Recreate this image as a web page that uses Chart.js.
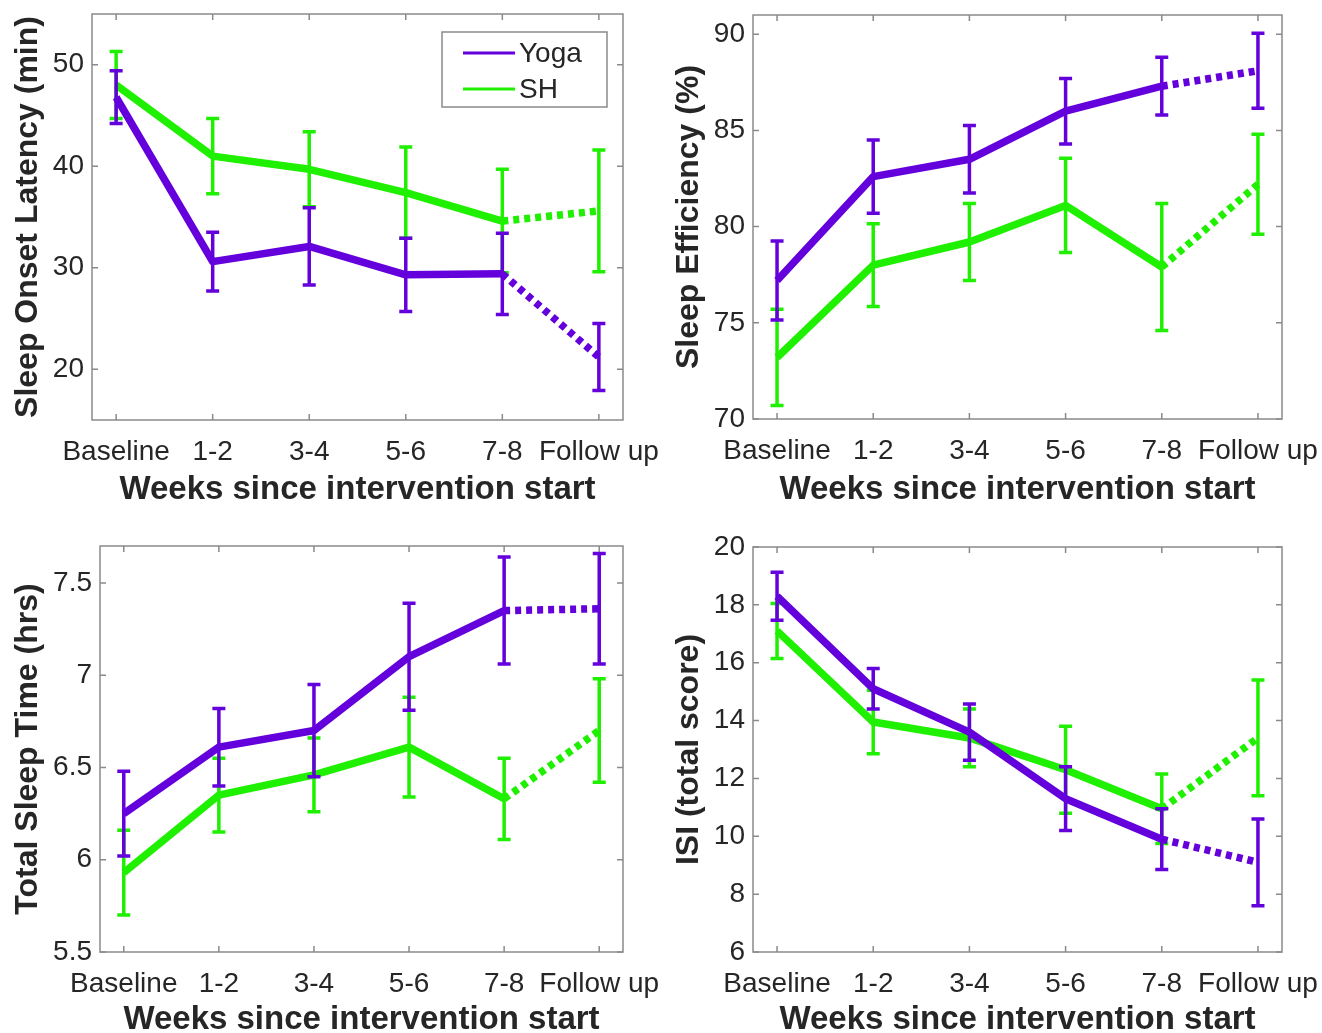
<!DOCTYPE html>
<html>
<head>
<meta charset="utf-8">
<script src="https://cdn.jsdelivr.net/npm/chart.js@4.4.0/dist/chart.umd.min.js"></script>
<style>
html, body { margin: 0; padding: 0; background: #fff; overflow: hidden; }
canvas { position: absolute; }
</style>
</head>
<body>
<canvas id="solChart" width="661" height="520" style="left:0;top:0"></canvas>
<canvas id="seChart" width="661" height="520" style="left:661px;top:0"></canvas>
<canvas id="tstChart" width="661" height="513" style="left:0;top:520px"></canvas>
<canvas id="isiChart" width="661" height="513" style="left:661px;top:520px"></canvas>
<script>
const weekLabels = ['Baseline', '1-2', '3-4', '5-6', '7-8', 'Follow up'];

// Sleep onset latency (min)
const solTicks = [20, 30, 40, 50];
const solYoga = [46.8, 30.6, 32.1, 29.3, 29.4, 21.2];
const solYogaErr = [2.6, 2.9, 3.8, 3.6, 4.0, 3.3];
const solSH = [48.0, 41.0, 39.7, 37.4, 34.6, 35.6];
const solSHErr = [3.3, 3.7, 3.7, 4.5, 5.1, 6.0];

// Sleep efficiency (%)
const seTicks = [70, 75, 80, 85, 90];
const seYoga = [77.2, 82.6, 83.5, 86.0, 87.3, 88.1];
const seYogaErr = [2.05, 1.9, 1.75, 1.7, 1.5, 1.95];
const seSH = [73.2, 78.0, 79.2, 81.1, 77.9, 82.2];
const seSHErr = [2.5, 2.15, 2.0, 2.45, 3.3, 2.6];

// Total sleep time (hrs)
const tstTicks = [5.5, 6, 6.5, 7, 7.5];
const tstYoga = [6.25, 6.61, 6.70, 7.10, 7.35, 7.36];
const tstYogaErr = [0.23, 0.21, 0.25, 0.29, 0.29, 0.30];
const tstSH = [5.93, 6.35, 6.46, 6.61, 6.33, 6.70];
const tstSHErr = [0.23, 0.20, 0.20, 0.27, 0.22, 0.28];

// ISI (total score)
const isiTicks = [6, 8, 10, 12, 14, 16, 18, 20];
const isiYoga = [18.3, 15.1, 13.6, 11.3, 9.9, 9.1];
const isiYogaErr = [0.83, 0.7, 0.97, 1.1, 1.05, 1.5];
const isiSH = [17.1, 13.95, 13.4, 12.3, 10.95, 13.4];
const isiSHErr = [0.95, 1.1, 1.0, 1.5, 1.2, 2.0];

Chart.defaults.font.family = '"Liberation Sans", Arial, Helvetica, sans-serif';
Chart.defaults.color = '#262626';

const purple = '#6400dc';
const green = '#1ef000';
const boxGrey = '#8a8a8a';

// vertical error bars with caps, drawn right after each series line
const errorBars = {
    id: 'errorBars',
    afterDatasetDraw(chart, args) {
        const ds = chart.data.datasets[args.index];
        if (!ds.errors) return;
        const { ctx, scales: { x, y } } = chart;
        ctx.save();
        ctx.strokeStyle = ds.borderColor;
        ctx.lineWidth = 3.5;
        ds.data.forEach((p, i) => {
            const px = x.getPixelForValue(p.x);
            const top = y.getPixelForValue(p.y + ds.errors[i]);
            const bot = y.getPixelForValue(p.y - ds.errors[i]);
            ctx.beginPath();
            ctx.moveTo(px, top); ctx.lineTo(px, bot);
            ctx.moveTo(px - 6.5, top); ctx.lineTo(px + 6.5, top);
            ctx.moveTo(px - 6.5, bot); ctx.lineTo(px + 6.5, bot);
            ctx.stroke();
        });
        ctx.restore();
    }
};

// matlab style box with inward ticks
const axesBox = {
    id: 'axesBox',
    beforeDatasetsDraw(chart) {
        const { ctx, chartArea: a, scales: { x, y } } = chart;
        ctx.save();
        ctx.strokeStyle = boxGrey;
        ctx.lineWidth = 1.5;
        ctx.strokeRect(a.left, a.top, a.right - a.left, a.bottom - a.top);
        ctx.beginPath();
        x.ticks.forEach(t => {
            const px = x.getPixelForValue(t.value);
            ctx.moveTo(px, a.bottom); ctx.lineTo(px, a.bottom - 6);
            ctx.moveTo(px, a.top); ctx.lineTo(px, a.top + 6);
        });
        y.ticks.forEach(t => {
            const py = y.getPixelForValue(t.value);
            ctx.moveTo(a.left, py); ctx.lineTo(a.left + 6, py);
            ctx.moveTo(a.right, py); ctx.lineTo(a.right - 6, py);
        });
        ctx.stroke();
        ctx.restore();
    }
};

const boxLegend = {
    id: 'boxLegend',
    afterDraw(chart) {
        const { ctx } = chart;
        ctx.save();
        ctx.fillStyle = '#fff';
        ctx.fillRect(442, 32, 165, 75);
        ctx.strokeStyle = boxGrey;
        ctx.lineWidth = 1.5;
        ctx.strokeRect(442, 32, 165, 75);
        const items = [['Yoga', purple, 53], ['SH', green, 89]];
        items.forEach(([name, col, yy]) => {
            ctx.strokeStyle = col;
            ctx.lineWidth = 3;
            ctx.beginPath();
            ctx.moveTo(463, yy); ctx.lineTo(515, yy);
            ctx.stroke();
            ctx.fillStyle = '#262626';
            ctx.font = '28px "Liberation Sans", Arial, sans-serif';
            ctx.textBaseline = 'middle';
            ctx.fillText(name, 519, yy + 1);
        });
        ctx.restore();
    }
};

function series(label, vals, errs, color) {
    return {
        label: label,
        data: vals.map((v, i) => ({ x: i, y: v })),
        errors: errs,
        borderColor: color,
        backgroundColor: color,
        borderWidth: 7.5,
        pointRadius: 0,
        tension: 0,
        fill: false,
        borderCapStyle: 'butt',
        borderJoinStyle: 'round',
        segment: {
            borderDash: ctx => ctx.p1DataIndex === 5 ? [6, 5] : undefined
        }
    };
}

function makePanel(id, p) {
    const plugins = [axesBox, errorBars];
    if (p.legend) plugins.push(boxLegend);
    new Chart(document.getElementById(id), {
        type: 'line',
        data: {
            datasets: [
                series('Yoga', p.yoga, p.yogaErr, purple),
                series('SH', p.sh, p.shErr, green)
            ]
        },
        plugins: plugins,
        options: {
            responsive: false,
            animation: false,
            devicePixelRatio: 1,
            layout: { padding: { top: p.padTop, right: p.padRight, left: 0, bottom: 0 } },
            plugins: {
                legend: { display: false },
                tooltip: { enabled: false }
            },
            scales: {
                x: {
                    type: 'linear',
                    min: -0.25,
                    max: 5.25,
                    grid: { display: false, drawTicks: false },
                    border: { display: false },
                    afterBuildTicks: s => { s.ticks = weekLabels.map((_, i) => ({ value: i })); },
                    ticks: {
                        autoSkip: false,
                        maxRotation: 0,
                        padding: 15,
                        font: { size: 28 },
                        color: '#262626',
                        callback: v => weekLabels[v]
                    },
                    title: {
                        display: true,
                        text: 'Weeks since intervention start',
                        font: { size: 33, weight: 'bold', lineHeight: 1 },
                        color: '#262626',
                        padding: { top: 0, bottom: p.xTitlePad }
                    },
                    afterFit: s => { s.height = p.xHeight; s.paddingLeft = 0; s.paddingRight = 0; }
                },
                y: {
                    min: p.yMin,
                    max: p.yMax,
                    grid: { display: false, drawTicks: false },
                    border: { display: false },
                    afterBuildTicks: s => { s.ticks = p.yTicks.map(v => ({ value: v })); },
                    ticks: {
                        padding: 8,
                        font: { size: 28 },
                        color: '#262626',
                        callback: v => String(v)
                    },
                    title: {
                        display: true,
                        text: p.yTitle,
                        font: { size: 32, weight: 'bold', lineHeight: 1 },
                        color: '#262626',
                        padding: { top: 12, bottom: 0 }
                    },
                    afterFit: s => { s.width = p.yWidth; s.paddingTop = 0; s.paddingBottom = 0; }
                }
            }
        }
    });
}

makePanel('solChart', {
    yTitle: 'Sleep Onset Latency (min)', yMin: 15, yMax: 55, yTicks: solTicks,
    yoga: solYoga, yogaErr: solYogaErr, sh: solSH, shErr: solSHErr,
    yWidth: 92, padTop: 14, padRight: 38, xHeight: 100, xTitlePad: 14, legend: true
});
makePanel('seChart', {
    yTitle: 'Sleep Efficiency (%)', yMin: 70, yMax: 91, yTicks: seTicks,
    yoga: seYoga, yogaErr: seYogaErr, sh: seSH, shErr: seSHErr,
    yWidth: 92, padTop: 15, padRight: 40, xHeight: 101, xTitlePad: 14
});
makePanel('tstChart', {
    yTitle: 'Total Sleep Time (hrs)', yMin: 5.5, yMax: 7.7, yTicks: tstTicks,
    yoga: tstYoga, yogaErr: tstYogaErr, sh: tstSH, shErr: tstSHErr,
    yWidth: 100, padTop: 26, padRight: 38, xHeight: 81, xTitlePad: -3
});
makePanel('isiChart', {
    yTitle: 'ISI (total score)', yMin: 6, yMax: 20, yTicks: isiTicks,
    yoga: isiYoga, yogaErr: isiYogaErr, sh: isiSH, shErr: isiSHErr,
    yWidth: 92, padTop: 27, padRight: 40, xHeight: 81, xTitlePad: -3
});
</script>
</body>
</html>
